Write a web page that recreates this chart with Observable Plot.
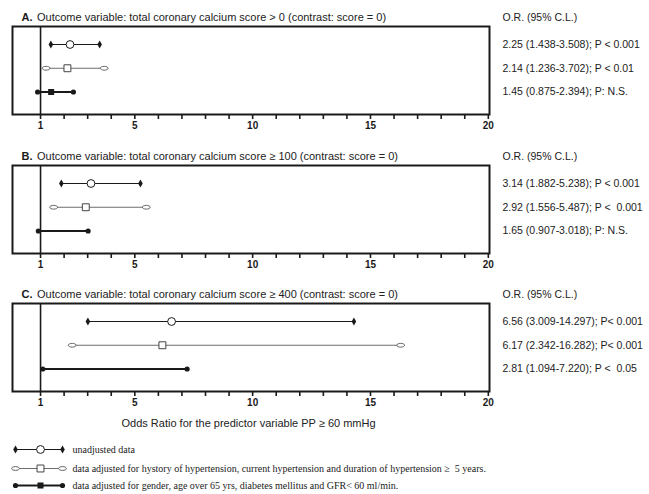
<!DOCTYPE html>
<html><head><meta charset="utf-8">
<script src="https://cdn.jsdelivr.net/npm/d3@7"></script>
<script src="https://cdn.jsdelivr.net/npm/@observablehq/plot@0.6"></script>
<style>
body{margin:0;background:#fff;}
#chart{position:relative;width:649px;height:494px;font-family:"Liberation Sans",Arial,sans-serif;}
#chart > div{position:absolute;left:0;}
svg{overflow:visible;display:block;}
</style></head><body><div id="chart"></div>
<script>
// ---- data ----
const panelLetters = ["A.", "B.", "C."];
const panelTitles = [
  "Outcome variable: total coronary calcium score > 0 (contrast: score = 0)",
  "Outcome variable: total coronary calcium score \u2265 100 (contrast: score = 0)",
  "Outcome variable: total coronary calcium score \u2265 400 (contrast: score = 0)"
];
const seriesNames = [
  "unadjusted data",
  "data adjusted for hystory of hypertension, current hypertension and duration of hypertension \u2265  5 years.",
  "data adjusted for gender, age over 65 yrs, diabetes mellitus and GFR< 60 ml/min."
];
const orA = [2.25, 2.14, 1.45];
const loA = [1.438, 1.236, 0.875];
const hiA = [3.508, 3.702, 2.394];
const pA  = ["P < 0.001", "P < 0.01", "P: N.S."];
const orB = [3.14, 2.92, 1.65];
const loB = [1.882, 1.556, 0.907];
const hiB = [5.238, 5.487, 3.018];
const pB  = ["P < 0.001", "P <  0.001", "P: N.S."];
const orC = [6.56, 6.17, 2.81];
const loC = [3.009, 2.342, 1.094];
const hiC = [14.297, 16.282, 7.220];
const pC  = ["P< 0.001", "P< 0.001", "P <  0.05"];
const centerShown = [[true, true, true], [true, true, false], [true, true, false]];
const tickValues = d3.range(1, 21);
const tickLabels = [1, 5, 10, 15, 20];
const headerText = "O.R. (95% C.L.)";
const axisTitle = "Odds Ratio for the predictor variable PP \u2265 60 mmHg";

const ORS = [orA, orB, orC], LOS = [loA, loB, loC], HIS = [hiA, hiB, hiC], PS = [pA, pB, pC];

// ---- styles ----
const ellipse = {
  draw(context, size) {
    const r = Math.sqrt(size / Math.PI), rx = r * 1.45, ry = r * 0.7, k = 0.5523;
    context.moveTo(rx, 0);
    context.bezierCurveTo(rx, k * ry, k * rx, ry, 0, ry);
    context.bezierCurveTo(-k * rx, ry, -rx, k * ry, -rx, 0);
    context.bezierCurveTo(-rx, -k * ry, -k * rx, -ry, 0, -ry);
    context.bezierCurveTo(k * rx, -ry, rx, -k * ry, rx, 0);
    context.closePath();
  }
};
const ink = "#1a1a1a";
const styles = [
  {line: ink, lw: 1, end: {symbol: "diamond", fill: ink, stroke: "none", r: 2.4}, mid: {symbol: "circle", fill: "white", stroke: ink, r: 3.9, strokeWidth: 1}},
  {line: "#6e6e6e", lw: 1, end: {symbol: ellipse, fill: "white", stroke: "#555", r: 2.7, strokeWidth: 0.9}, mid: {symbol: "square", fill: "white", stroke: "#444", r: 3.9, strokeWidth: 1}},
  {line: ink, lw: 1.8, end: {symbol: "circle", fill: ink, stroke: "none", r: 2.6}, mid: {symbol: "square", fill: ink, stroke: "none", r: 3.4}}
];
const f2 = d3.format(".2f"), f3 = d3.format(".3f");

function panel(i, height, extra) {
  const rows = d3.range(3).map(j => ({s: j, row: j + 1, or: ORS[i][j], lo: LOS[i][j], hi: HIS[i][j], p: PS[i][j], shown: centerShown[i][j]}));
  const marks = [
    Plot.ruleX([1], {stroke: ink, strokeWidth: 1.6}),
    Plot.axisX({ticks: tickValues, tickFormat: d => tickLabels.includes(d) ? String(d) : "", tickSize: 5, tickPadding: 2,
      fontWeight: "bold", fontSize: 10, strokeWidth: 1.6, stroke: ink, fill: ink, fontFamily: "Liberation Sans, Arial, sans-serif"}),
    Plot.frame({stroke: ink, strokeWidth: 2})
  ];
  for (let j = 0; j < 3; j++) {
    const st = styles[j];
    const d = rows.filter(r => r.s === j);
    marks.push(Plot.link(d, {x1: "lo", x2: "hi", y1: "row", y2: "row", stroke: st.line, strokeWidth: st.lw}));
    marks.push(Plot.dot(d, {x: "lo", y: "row", ...st.end}));
    marks.push(Plot.dot(d, {x: "hi", y: "row", ...st.end}));
    marks.push(Plot.dot(d.filter(r => r.shown), {x: "or", y: "row", ...st.mid}));
  }
  marks.push(
    Plot.text(rows, {y: "row", frameAnchor: "right", dx: 13, textAnchor: "start", lineAnchor: "middle", fontSize: 10.5, fill: "#222",
      text: r => `${f2(r.or)} (${f3(r.lo)}-${f3(r.hi)}); ${r.p}`}),
    Plot.text([headerText], {text: d => d, frameAnchor: "top-right", dx: 13, dy: -9, textAnchor: "start", lineAnchor: "middle", fontSize: 10.5, fill: "#222"}),
    Plot.text([panelLetters[i]], {text: d => d, frameAnchor: "top-left", dx: 9, dy: -9, textAnchor: "start", lineAnchor: "middle", fontWeight: "bold", fontSize: 11, fill: ink}),
    Plot.text([panelTitles[i]], {text: d => d, frameAnchor: "top-left", dx: 24.5, dy: -9, textAnchor: "start", lineAnchor: "middle", fontSize: 11, fill: "#222"}),
    ...extra
  );
  return Plot.plot({
    width: 649, height,
    marginTop: 26, marginBottom: height - 26 - 88, marginLeft: 12, marginRight: 160,
    style: {background: "white", fontFamily: "Liberation Sans, Arial, sans-serif", color: ink},
    x: {domain: [-0.19, 20.05], axis: null},
    y: {domain: [0.242, 3.947], reverse: true, axis: null},
    marks
  });
}

const chart = document.getElementById("chart");
function place(node, top) {
  const div = document.createElement("div");
  div.style.top = top + "px";
  div.appendChild(node);
  chart.appendChild(div);
}
place(panel(0, 139, []), 0);
place(panel(1, 138, []), 139);
place(panel(2, 160, [
  Plot.text([axisTitle], {text: d => d, frameAnchor: "bottom-left", dx: 109, dy: 32, textAnchor: "start", lineAnchor: "middle", fontSize: 11, fill: "#222"})
]), 277);

// legend
const legendRows = seriesNames.map((name, j) => ({name, j, y: [12, 31, 48][j]}));
const lmarks = [];
legendRows.forEach(r => {
  const st = styles[r.j];
  lmarks.push(Plot.link([r], {x1: () => 15, x2: () => 62, y1: "y", y2: "y", stroke: st.line, strokeWidth: st.lw}));
  lmarks.push(Plot.dot([r], {x: () => 15, y: "y", ...st.end}));
  lmarks.push(Plot.dot([r], {x: () => 62, y: "y", ...st.end}));
  lmarks.push(Plot.dot([r], {x: () => 40, y: "y", ...st.mid}));
});
lmarks.push(Plot.text(legendRows, {x: () => 72, y: "y", text: "name", textAnchor: "start", lineAnchor: "middle", fontSize: 10, fontFamily: "Liberation Serif, Times New Roman, serif", fill: "#222"}));
place(Plot.plot({
  width: 649, height: 57, margin: 0,
  style: {background: "white"},
  x: {type: "identity", axis: null}, y: {type: "identity", axis: null},
  marks: lmarks
}), 437);
</script></body></html>
